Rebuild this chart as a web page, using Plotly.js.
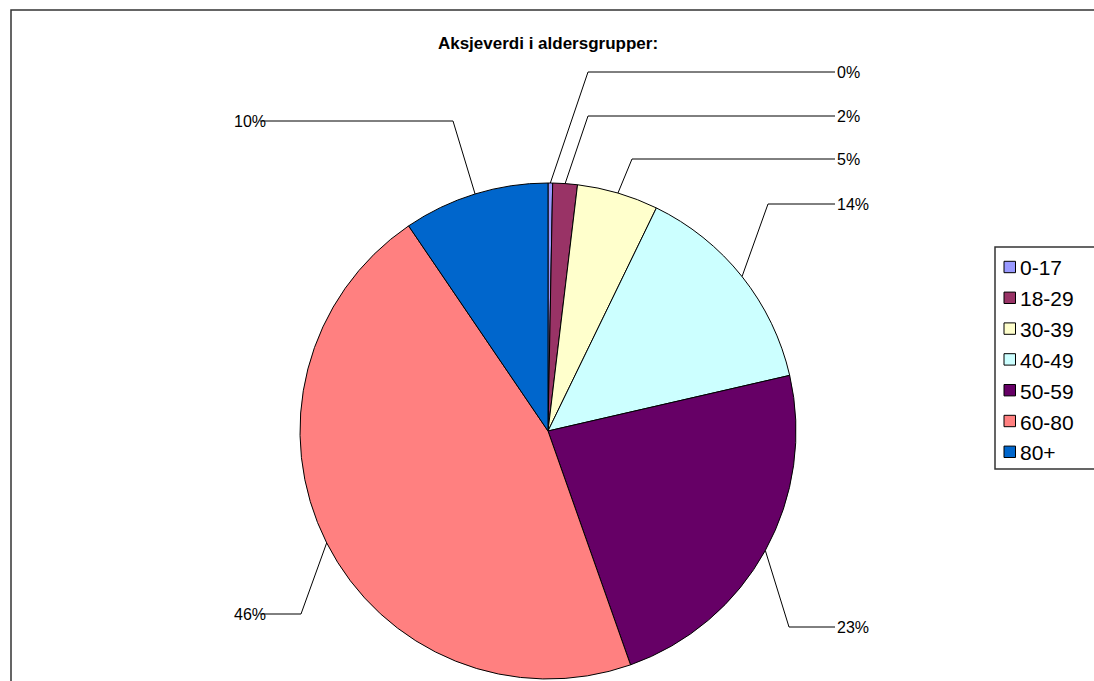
<!DOCTYPE html>
<html>
<head>
<meta charset="utf-8">
<script src="https://cdn.plot.ly/plotly-3.0.1.min.js"></script>
<style>
html,body{margin:0;padding:0;background:#fff;}
#chart{width:1094px;height:681px;}
</style>
</head>
<body>
<div id="chart"></div>
<script>
// ---- data ----
const categories = ['0-17', '18-29', '30-39', '40-49', '50-59', '60-80', '80+'];
const shares = [0.3, 1.6, 5.3, 14.2, 23.2, 45.9, 9.5];
const colors = ['#9999FF', '#993366', '#FFFFCC', '#CCFFFF', '#660066', '#FF8080', '#0066CC'];
const chartTitle = 'Aksjeverdi i aldersgrupper:';

// ---- layout helpers (pixel -> paper) ----
const W = 1094, H = 681;
const px = x => x / W;
const py = y => 1 - y / H;

// pie geometry
const cx = 548, cy = 431, R = 248;

// label placement (layout only)
const labelPlace = [
  {side: 'r', y: 72,  ex: 588},
  {side: 'r', y: 116, ex: 588},
  {side: 'r', y: 159, ex: 632},
  {side: 'r', y: 204, ex: 768},
  {side: 'r', y: 627, ex: 789},
  {side: 'l', y: 614, ex: 301},
  {side: 'l', y: 121, ex: 453}
];

const total = shares.reduce((a, b) => a + b, 0);
const shapes = [];
const annotations = [];

// outer frame (partially visible)
shapes.push({type: 'path', xref: 'paper', yref: 'paper',
  path: `M${px(11)},${py(H + 5)}L${px(11)},${py(10)}L${px(W + 5)},${py(10)}`,
  line: {color: '#333', width: 1.5}});

// leader lines + labels
let cum = 0;
shares.forEach((v, i) => {
  const mid = (cum + v / 2) / total;
  cum += v;
  const th = mid * 2 * Math.PI;
  const sx = cx + R * Math.sin(th);
  const sy = cy - R * Math.cos(th);
  const p = labelPlace[i];
  const endX = p.side === 'r' ? 835 : 260;
  shapes.push({type: 'path', xref: 'paper', yref: 'paper',
    path: `M${px(sx)},${py(sy)}L${px(p.ex)},${py(p.y)}L${px(endX)},${py(p.y)}`,
    line: {color: '#000', width: 1}});
  annotations.push({
    xref: 'paper', yref: 'paper',
    x: px(p.side === 'r' ? 835 : 268), y: py(p.y),
    xanchor: p.side === 'r' ? 'left' : 'right', yanchor: 'middle',
    text: Math.round(v / total * 100) + '%',
    showarrow: false,
    font: {family: 'Liberation Sans, Arial, sans-serif', size: 16, color: '#000'}
  });
});

// legend (drawn manually)
shapes.push({type: 'rect', xref: 'paper', yref: 'paper',
  x0: px(995), x1: px(W + 10), y0: py(247), y1: py(469),
  line: {color: '#333', width: 1.5}, fillcolor: 'rgba(0,0,0,0)'});
categories.forEach((c, i) => {
  const yc = 267 + i * 30.8;
  shapes.push({type: 'rect', xref: 'paper', yref: 'paper',
    x0: px(1004), x1: px(1015.5), y0: py(yc - 5.7), y1: py(yc + 5.7),
    fillcolor: colors[i], line: {color: '#000', width: 1}});
  annotations.push({
    xref: 'paper', yref: 'paper', x: px(1018), y: py(yc + 1),
    xanchor: 'left', yanchor: 'middle', text: c, showarrow: false,
    font: {family: 'Liberation Sans, Arial, sans-serif', size: 21, color: '#000'}
  });
});

const trace = {
  type: 'pie',
  labels: categories,
  values: shares,
  sort: false,
  direction: 'clockwise',
  rotation: 0,
  textinfo: 'none',
  hoverinfo: 'label+percent',
  marker: {colors: colors, line: {color: '#000', width: 1}},
  domain: {x: [px(cx - R), px(cx + R)], y: [py(cy + R), py(cy - R)]},
  showlegend: false
};

const layout = {
  width: W, height: H,
  margin: {l: 0, r: 0, t: 0, b: 0},
  paper_bgcolor: '#fff',
  showlegend: false,
  title: {
    text: '<b>' + chartTitle + '</b>',
    x: px(548), xanchor: 'center', xref: 'paper',
    y: py(43), yanchor: 'middle', yref: 'paper',
    font: {family: 'Liberation Sans, Arial, sans-serif', size: 17, color: '#000'}
  },
  shapes: shapes,
  annotations: annotations
};

Plotly.newPlot('chart', [trace], layout, {displayModeBar: false, staticPlot: true});
</script>
</body>
</html>
